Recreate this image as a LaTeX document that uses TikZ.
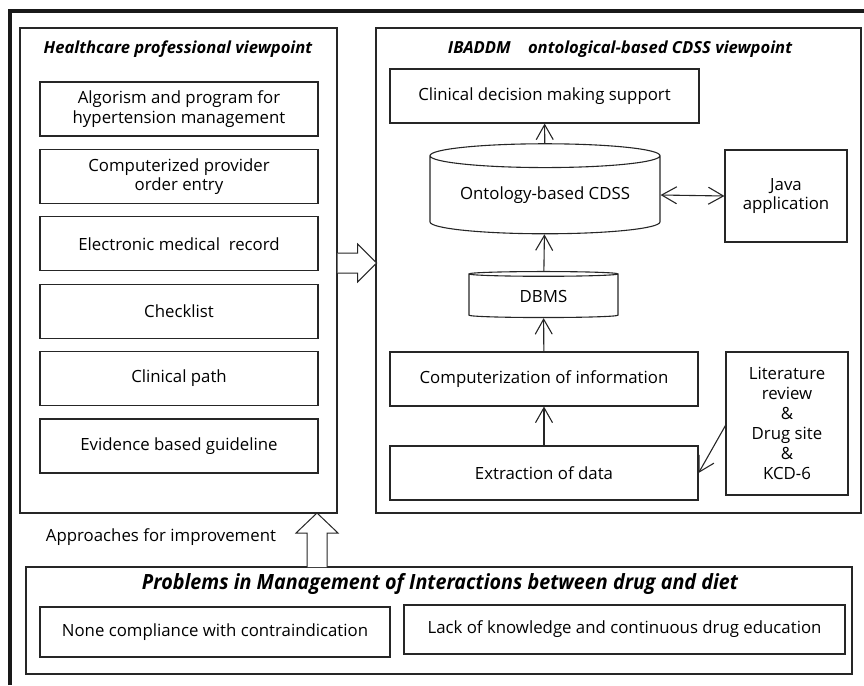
\documentclass[tikz,border=0pt]{standalone}
\usepackage{fontspec}
\setmainfont{Open Sans}
\usetikzlibrary{shapes.geometric,arrows.meta}

\begin{document}
\begin{tikzpicture}[x=1pt,y=-1pt,line width=1.1pt,draw=black!85]
   \useasboundingbox (0,0) rectangle (864,685);
   \tikzstyle{panel}=[rectangle, draw=black!85, inner sep=0pt]
   \tikzstyle{item}=[rectangle, draw=black!85, align=center, inner sep=0pt, font=\fontsize{16.8}{19.5}\selectfont]
   \tikzstyle{db}=[cylinder, shape border rotate=90, draw=black!85, inner sep=0pt, font=\fontsize{16.8}{19.5}\selectfont]
   \tikzstyle{head}=[font=\fontsize{16.6}{19}\selectfont\bfseries\itshape]
   \tikzstyle{flow}=[-{Straight Barb[length=15pt,width=17pt]}]
   \tikzstyle{hollow}=[draw=black!85, line width=1pt, fill=white]
   % outer frame
   \draw[line width=4pt, draw=black!90] (10,685) -- (10,11) -- (864,11);
   % healthcare professional side
   \node[panel, minimum width=317pt, minimum height=485pt] (hpv) at (178.5,270.5) {};
   \node[head] (hpvt) at (178,49) {Healthcare professional viewpoint};
   \foreach \i/\txt in {0/{Algorism and program for\\hypertension management},1/{Computerized provider\\order entry},2/{Electronic medical~~record},3/{Checklist},4/{Clinical path},5/{Evidence based guideline}} {
       \node[item, minimum width=278pt, minimum height=54pt] (hp\i) at (179,109+67.4*\i) {\txt};
   }
   % CDSS side
   \node[panel, minimum width=485pt, minimum height=485pt] (ibv) at (618.5,270.5) {};
   \node[head] (ibvt) at (620,49) {IBADDM~~~ ontological-based CDSS viewpoint};
   \node[item, minimum width=309pt, minimum height=54pt] (cdms) at (544.5,96) {Clinical decision making support};
   \node[db, minimum width=230pt, minimum height=90pt, aspect=0.14] (onto) at (545,195) {Ontology-based CDSS};
   \node[item, minimum width=122pt, minimum height=92pt] (java) at (786,196) {Java\\application};
   \node[db, minimum width=149pt, minimum height=46pt, aspect=0.1] (dbms) at (543.5,296) {DBMS};
   \node[item, minimum width=308pt, minimum height=54pt] (comp) at (544,379) {Computerization of information};
   \node[item, minimum width=308pt, minimum height=54pt] (extr) at (544,473) {Extraction of data};
   \node[item, minimum width=122pt, minimum height=143pt, font=\fontsize{16.8}{20}\selectfont] (lit) at (787,423.5) {Literature\\review\\\&\\Drug site\\\&\\KCD-6};
   \path (extr) edge[flow] (comp);
   \path (comp) edge[flow] (dbms);
   \path (dbms) edge[flow] (onto);
   \path (onto) edge[flow] (cdms);
   \path (onto.east) edge[{Straight Barb[length=15pt,width=17pt]}-{Straight Barb[length=15pt,width=17pt]}] (java.west);
   \path ([yshift=-2pt]lit.west) edge[flow] (extr.east);
   % problems
   \node[panel, minimum width=826pt, minimum height=107pt] (prob) at (439,620.5) {};
   \node[font=\fontsize{21}{24}\selectfont\bfseries\itshape] (probt) at (440,584) {\scalebox{0.94}[1]{Problems in Management of Interactions between drug and diet}};
   \node[item, minimum width=350pt, minimum height=50pt] (none) at (215,632) {None compliance with contraindication};
   \node[item, minimum width=441pt, minimum height=49pt] (lack) at (624.5,629.5) {Lack of knowledge and continuous drug education};
   \node[font=\fontsize{16.8}{19.5}\selectfont] (appr) at (161,537) {Approaches for improvement};
   % hollow arrows
   \path (hpv.east) ++(0,-7.5) coordinate (ra);
   \draw[hollow] (ra) ++(0,-10) -- ++(20,0) -- ++(0,-9) -- ++(19,19) -- ++(-19,19) -- ++(0,-9) -- ++(-20,0);
   \coordinate (ua) at (317,567);
   \draw[hollow] (ua) ++(-10,0) -- ++(0,-34) -- ++(-11,0) -- ++(21,-20) -- ++(21,20) -- ++(-11,0) -- ++(0,34);
\end{tikzpicture}
\end{document}
